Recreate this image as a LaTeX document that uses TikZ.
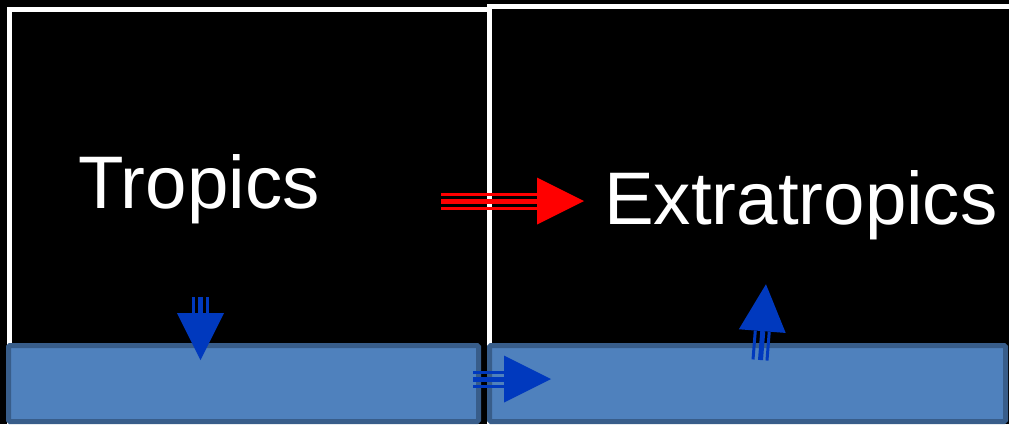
\documentclass[tikz,border=0pt]{standalone}
\usepackage{fontspec}
\setmainfont{Liberation Sans}
\definecolor{boxfill}{RGB}{79,129,189}
\definecolor{boxline}{RGB}{56,93,138}
\definecolor{arrblue}{RGB}{0,57,190}
\definecolor{arrred}{RGB}{255,0,0}
\newcommand\triarrow[5]{%
  \begin{scope}[shift={(#2,#3)},rotate=#4]
    \draw[#1,line width=3pt] (0,-7) -- (#5,-7);
    \draw[#1,line width=5pt] (0,0.5) -- (#5,0.5);
    \draw[#1,line width=3pt] (0,7) -- (#5,7);
    \fill[#1] (#5,-23.5) -- ({#5+47},0) -- (#5,23.5) -- cycle;
  \end{scope}}
\tikzset{
  frame/.style={draw=white,line width=5pt},
  ocean/.style={draw=boxline,fill=boxfill,line width=5pt,rounded corners=1.5pt},
  label/.style={text=white,font=\fontsize{74.5}{80}\selectfont,inner sep=0pt,anchor=base west}
}
\begin{document}
\begin{tikzpicture}[x=1pt,y=-1pt]
\useasboundingbox (0,0) rectangle (1009,424);
\fill[black] (0,0) rectangle (1009,424);
\draw[frame] (9,9) rectangle (489,440);
\draw[frame] (489,6) rectangle (1030,440);
\path[ocean] (8.5,345.5) rectangle (478.5,421.5);
\path[ocean] (489.5,345.5) rectangle (1005.5,421.5);
\node[label] (trop) at (78,208) {Tropics};
\node[label] (extra) at (604,224) {Extratropics};
\triarrow{arrred}{441}{201}{0}{96}
\triarrow{arrblue}{200.5}{297}{-90}{16}
\triarrow{arrblue}{473}{379}{0}{31}
\triarrow{arrblue}{760}{360}{85.5}{29}
\end{tikzpicture}
\end{document}
